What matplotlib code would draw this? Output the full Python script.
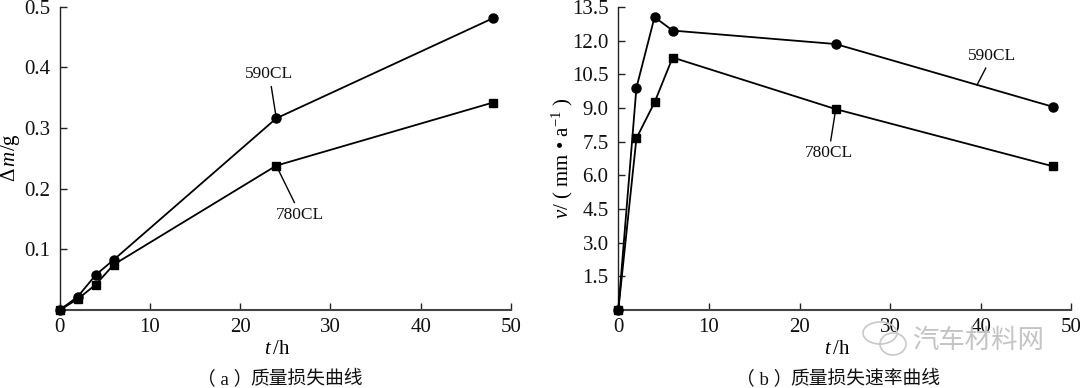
import matplotlib.pyplot as plt
from matplotlib.patches import Ellipse

plt.rcParams['font.family'] = ['Liberation Serif', 'Noto Sans CJK SC']
plt.rcParams['mathtext.fontset'] = 'custom'
plt.rcParams['mathtext.rm'] = 'Liberation Serif'
plt.rcParams['mathtext.it'] = 'Liberation Serif:italic'

# dane
t = [0, 2, 4, 6, 24, 48]
masa_590 = [0, 0.022, 0.058, 0.083, 0.316, 0.481]
masa_780 = [0, 0.018, 0.042, 0.075, 0.238, 0.342]
v_590 = [0, 9.9, 13.05, 12.45, 11.85, 9.05]
v_780 = [0, 7.65, 9.25, 11.25, 8.95, 6.4]

x_ticks = [0, 10, 20, 30, 40, 50]
y_ticks_a = [0.1, 0.2, 0.3, 0.4, 0.5]
y_ticks_b = [1.5, 3.0, 4.5, 6.0, 7.5, 9.0, 10.5, 12.0, 13.5]

W, H = 1080, 388
fig = plt.figure(figsize=(W / 100, H / 100), dpi=100)


def osie(x0, x1, y_top, y_bot):
    ax = fig.add_axes([x0 / W, 1 - y_bot / H, (x1 - x0) / W, (y_bot - y_top) / H])
    ax.patch.set_alpha(0)
    ax.spines['top'].set_visible(False)
    ax.spines['right'].set_visible(False)
    ax.spines['left'].set_linewidth(1.0)
    ax.spines['left'].set_color('#222222')
    ax.spines['bottom'].set_linewidth(1.5)
    ax.spines['bottom'].set_color('#444444')
    ax.tick_params(direction='in', length=5, width=1.0, labelsize=15, color='#222222', labelcolor='#111111')
    ax.tick_params(axis='y', pad=7)
    ax.tick_params(axis='x', pad=6)
    ax.set_xlim(0, 50)
    ax.set_xticks(x_ticks)
    return ax


def serie(ax, y1, y2):
    ax.plot(t, y1, '-o', color='black', lw=1.3, ms=6.5, clip_on=False, zorder=3)
    ax.plot(t, y2, '-s', color='black', lw=1.3, ms=6, clip_on=False, zorder=3)


def etykieta(ax, tekst, punkt, dx, dy):
    # linia od punktu do opisu, przesuniecie w pikselach
    ax.annotate(tekst, xy=punkt, xytext=(dx, dy), textcoords='offset pixels', fontsize=12.5,
                ha='center', va='center', color='#111111',
                arrowprops=dict(arrowstyle='-', color='black', lw=1.0, shrinkA=1, shrinkB=0))


def podpis(x_nawias, x_tekst, znak, tekst):
    fig.text(x_nawias / W, 1 - 379 / H, '（ ' + znak + ' ）', fontsize=13.5, ha='left', va='center', color='#111111')
    fig.text(x_tekst / W, 1 - 379 / H, tekst, fontsize=13.5, ha='left', va='center', color='#111111')


# wykres (a)
ax1 = osie(59.7, 511, 6.7, 310)
serie(ax1, masa_590, masa_780)
ax1.set_ylim(0, 0.5)
ax1.set_yticks(y_ticks_a)
ax1.set_yticklabels(['0.1', '0.2', '0.3', '0.4', '0.5'])
etykieta(ax1, '590CL', (24, 0.316), -7, 44)
etykieta(ax1, '780CL', (24, 0.238), 24, -49)
fig.text(10 / W, 1 - 158 / H, r'$\Delta\,m$/g', fontsize=15, rotation=90, ha='center', va='center')
fig.text(277 / W, 1 - 349 / H, r'$t\,$/h', fontsize=15, ha='center', va='center')
podpis(197, 250, 'a', '质量损失曲线')

# wykres (b)
ax2 = osie(618.3, 1071.3, 7, 310)
serie(ax2, v_590, v_780)
ax2.set_ylim(0, 13.5)
ax2.set_yticks(y_ticks_b)
ax2.set_yticklabels(['1.5', '3.0', '4.5', '6.0', '7.5', '9.0', '10.5', '12.0', '13.5'])
etykieta(ax2, '590CL', (39.6, 10.03), 15, 29)
etykieta(ax2, '780CL', (24, 8.95), -7, -44)
fig.text(562 / W, 1 - 158 / H, r'$v$/ ( mm • a$^{-1}$ )', fontsize=15, rotation=90, ha='center', va='center')
fig.text(837 / W, 1 - 349 / H, r'$t\,$/h', fontsize=15, ha='center', va='center')
podpis(736, 790, 'b', '质量损失速率曲线')

# znak wodny
fig.text(978 / W, 1 - 341 / H, '汽车材料网', fontsize=19, ha='center', va='center', color='#c4c4c4', zorder=5)
for cx, cy, szer, wys in [(880, 333, 34, 22), (893, 344, 26, 22)]:
    fig.add_artist(Ellipse((cx / W, 1 - cy / H), szer / W, wys / H, transform=fig.transFigure,
                           fill=False, edgecolor='#c8c8c8', lw=1.2, zorder=5))

fig.savefig('out.png', dpi=100)
